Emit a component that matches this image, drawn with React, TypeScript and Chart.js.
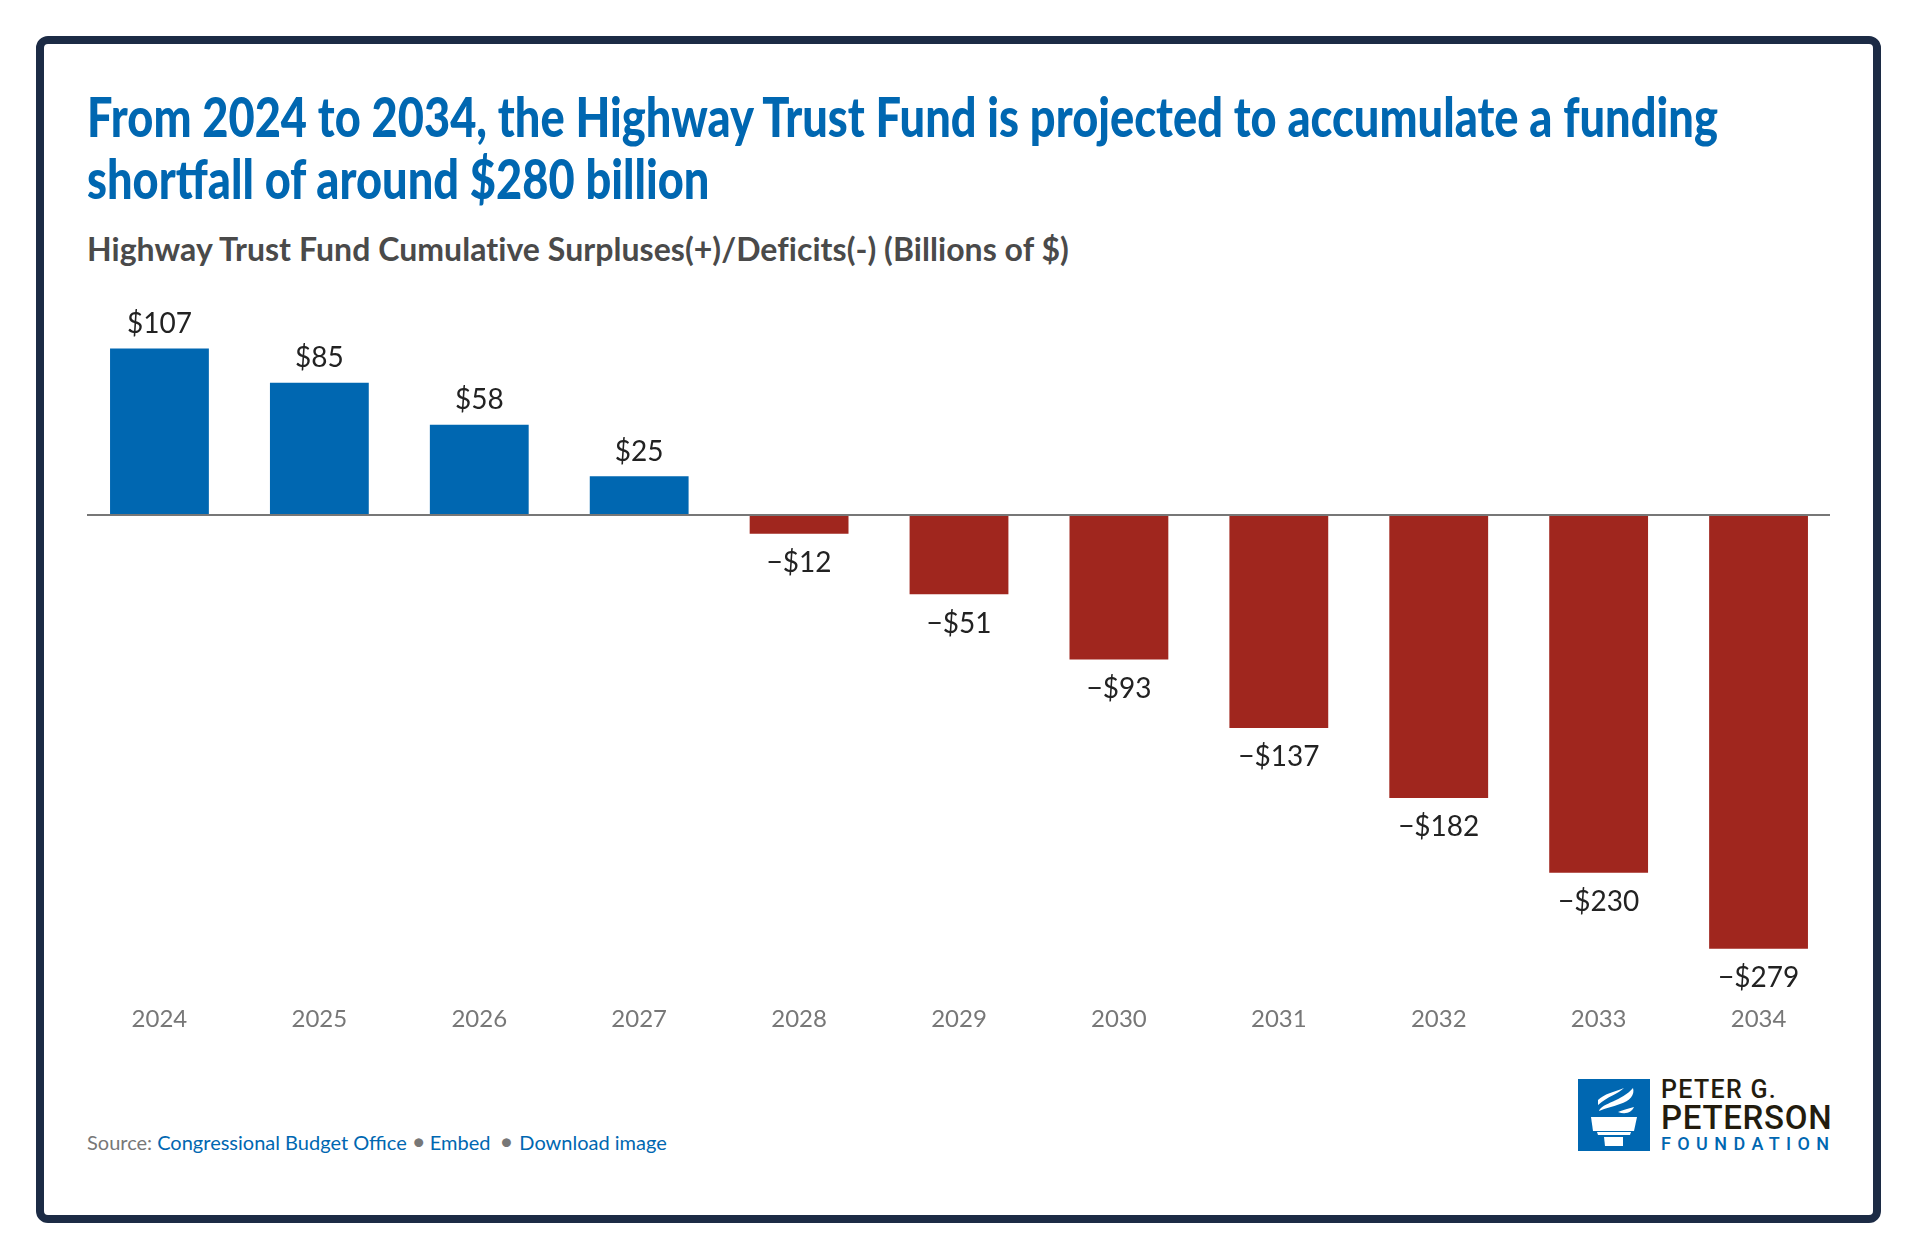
import React, { useEffect, useRef } from "react";
import { Chart, registerables } from "chart.js";

Chart.register(...registerables);

const years = ["2024", "2025", "2026", "2027", "2028", "2029", "2030", "2031", "2032", "2033", "2034"];
const balances = [107, 85, 58, 25, -12, -51, -93, -137, -182, -230, -279];

const BLUE = "#0067b1";
const RED = "#a0261e";
const NAVY = "#1c2b45";

const money = (v: number) => (v < 0 ? "\u2212$" + Math.abs(v) : "$" + v);

const zeroLine = {
  id: "zeroLine",
  afterDatasetsDraw(chart: any) {
    const { ctx, scales, chartArea } = chart;
    const y = Math.round(scales.y.getPixelForValue(0));
    ctx.save();
    ctx.fillStyle = "#777777";
    ctx.fillRect(chartArea.left + 7.5, y - 1, chartArea.right - chartArea.left - 16, 2);
    ctx.restore();
  },
};

const valueLabels = {
  id: "valueLabels",
  afterDatasetsDraw(chart: any) {
    const { ctx } = chart;
    const bars = chart.getDatasetMeta(0).data;
    ctx.save();
    ctx.font = "28px Lato";
    ctx.fillStyle = "#222222";
    ctx.textAlign = "center";
    ctx.textBaseline = "middle";
    bars.forEach((bar: any, i: number) => {
      const v = balances[i];
      ctx.fillText(money(v), bar.x, v < 0 ? bar.y + 29.2 : bar.y - 24.5);
    });
    ctx.restore();
  },
};

const BarChart: React.FC = () => {
  const canvasRef = useRef<HTMLCanvasElement>(null);

  useEffect(() => {
    if (!canvasRef.current) return;
    const chart = new Chart(canvasRef.current, {
      type: "bar",
      data: {
        labels: years,
        datasets: [
          {
            data: balances,
            backgroundColor: balances.map((v) => (v < 0 ? RED : BLUE)),
            barPercentage: 0.618,
            categoryPercentage: 1,
          },
        ],
      },
      options: {
        animation: false,
        responsive: false,
        devicePixelRatio: 1,
        layout: { padding: { top: 28.4, left: 79.5, right: 78.5, bottom: 28.5 } },
        plugins: { legend: { display: false }, tooltip: { enabled: false } },
        scales: {
          x: {
            grid: { display: false, drawTicks: false },
            border: { display: false },
            ticks: {
              color: "#777777",
              font: { family: "Lato", size: 24 },
              padding: 23.5,
              autoSkip: false,
              maxRotation: 0,
            },
            afterFit: (scale: any) => {
              scale.height = 50;
            },
          },
          y: { display: false, min: -300, max: 120 },
        },
      },
      plugins: [zeroLine, valueLabels],
    });
    return () => chart.destroy();
  }, []);

  return (
    <canvas
      ref={canvasRef}
      width={1917}
      height={760}
      style={{ position: "absolute", left: 0, top: 300, width: 1917, height: 760 }}
    />
  );
};

const logoText: React.CSSProperties = {
  position: "absolute",
  left: 1661,
  fontFamily: "Roboto",
  fontWeight: 500,
  color: "#231c0e",
  whiteSpace: "nowrap",
  lineHeight: 1.1,
};

const Logo: React.FC = () => (
  <>
    <svg
      width={72}
      height={72}
      viewBox="0 0 72 72"
      style={{ position: "absolute", left: 1578, top: 1079 }}
    >
      <rect width="72" height="72" fill={BLUE} />
      <path d="M20 21 C26 15 36 13 46 9 C40 15 30 17 20 26 Z" fill="#fff" />
      <path d="M21 32 C24 24 44 22 55 9 C57 16 52 22 42 25 C34 28 28 29 21 32 Z" fill="#fff" />
      <path d="M40 33 C44 31 50 30 56 28 C54 33 48 36 40 33 Z" fill="#fff" />
      <path d="M13 38 H59 L56 52 H15 Z" fill="#fff" />
      <path d="M19 53 H53 L52 56 H20 Z" fill="#fff" />
      <path d="M26 58 H45 L45 67 H27 Z" fill="#fff" />
    </svg>
    <div style={{ ...logoText, top: 1076, fontSize: 25, letterSpacing: 1.3 }}>PETER G.</div>
    <div style={{ ...logoText, top: 1100, fontSize: 33, letterSpacing: 0.7 }}>PETERSON</div>
    <div style={{ ...logoText, top: 1134, fontSize: 18, letterSpacing: 6.4, color: BLUE }}>FOUNDATION</div>
  </>
);

const link: React.CSSProperties = { color: BLUE };
const dot: React.CSSProperties = { fontSize: 24, lineHeight: 0, margin: "0 4px 0 5px" };

export default function App() {
  return (
    <div
      style={{
        position: "absolute",
        left: 0,
        top: 0,
        width: 1917,
        height: 1259,
        background: "#fff",
        overflow: "hidden",
      }}
    >
      <div
        style={{
          position: "absolute",
          left: 36,
          top: 36,
          width: 1829,
          height: 1171,
          border: `8px solid ${NAVY}`,
          borderRadius: 12,
        }}
      />
      <div
        style={{
          position: "absolute",
          left: 87,
          top: 85,
          fontFamily: "Lato",
          fontWeight: 900,
          fontSize: 56,
          lineHeight: "62px",
          color: BLUE,
          whiteSpace: "nowrap",
          transform: "scaleX(0.807)",
          transformOrigin: "left top",
        }}
      >
        From 2024 to 2034, the Highway Trust Fund is projected to accumulate a funding
        <br />
        shortfall of around $280 billion
      </div>
      <div
        style={{
          position: "absolute",
          left: 87,
          top: 229,
          fontFamily: "Lato",
          fontWeight: 700,
          fontSize: 32,
          letterSpacing: 0.05,
          color: "#4a4a4a",
          whiteSpace: "nowrap",
        }}
      >
        Highway Trust Fund Cumulative Surpluses(+)/Deficits(-) (Billions of $)
      </div>
      <BarChart />
      <div
        style={{
          position: "absolute",
          left: 87,
          top: 1130,
          fontFamily: "Lato",
          fontSize: 20,
          color: "#777777",
          whiteSpace: "nowrap",
        }}
      >
        Source: <span style={link}>Congressional Budget Office</span>
        <span style={dot}>{"\u2022"}</span>
        <span style={link}>Embed</span>
        <span style={{ ...dot, margin: "0 6px 0 9px" }}>{"\u2022"}</span>
        <span style={link}>Download image</span>
      </div>
      <Logo />
    </div>
  );
}
